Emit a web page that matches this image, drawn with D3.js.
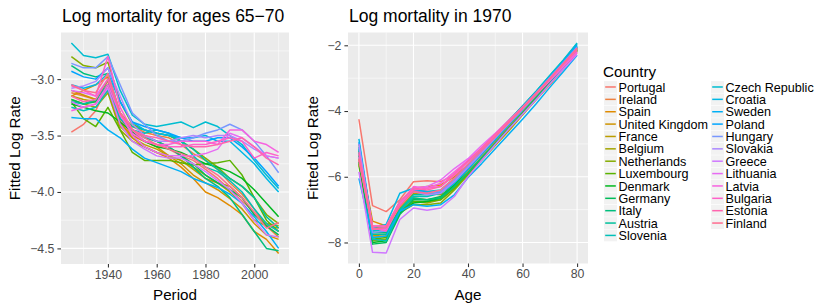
<!DOCTYPE html>
<html>
<head>
<meta charset="utf-8">
<script src="https://cdn.jsdelivr.net/npm/d3@7"></script>
<style>
  body { margin: 0; background: #fff; }
  svg { display: block; font-family: "Liberation Sans", Arial, sans-serif; }
</style>
</head>
<body>
<svg id="chart" width="822" height="308"></svg>
<script>
// ---- Data
const countries = ['Portugal', 'Ireland', 'Spain', 'United Kingdom', 'France', 'Belgium', 'Netherlands',
  'Luxembourg', 'Denmark', 'Germany', 'Italy', 'Austria', 'Slovenia', 'Czech Republic', 'Croatia',
  'Sweden', 'Poland', 'Hungary', 'Slovakia', 'Greece', 'Lithuania', 'Latvia', 'Bulgaria', 'Estonia', 'Finland'];

const periods = [1925, 1930, 1935, 1940, 1945, 1950, 1955, 1960, 1965, 1970, 1975, 1980, 1985, 1990, 1995, 2000, 2005, 2010];
const ages = [0, 5, 10, 15, 20, 25, 30, 35, 40, 45, 50, 55, 60, 65, 70, 75, 80];

// log mortality, ages 65-70, by period (one row per country)
const periodRates = [
  [-3.47, -3.40, -3.28, -3.05, -3.35, -3.50, -3.55, -3.58, -3.62, -3.68, -3.72, -3.80, -3.88, -3.98, -4.08, -4.18, -4.28, -4.35],
  [-3.12, -3.15, -3.18, -3.02, -3.30, -3.42, -3.47, -3.50, -3.52, -3.58, -3.66, -3.72, -3.80, -3.92, -4.02, -4.15, -4.30, -4.40],
  [-3.15, -3.10, -3.05, -2.98, -3.38, -3.52, -3.60, -3.65, -3.70, -3.78, -3.88, -4.00, -4.05, -4.12, -4.20, -4.35, -4.42, -4.545],
  [-3.10, -3.14, -3.18, -3.05, -3.40, -3.50, -3.55, -3.60, -3.68, -3.75, -3.85, -3.92, -3.98, -4.06, -4.15, -4.28, -4.38, -4.42],
  [-3.15, -3.18, -3.20, -3.10, -3.42, -3.52, -3.58, -3.62, -3.68, -3.72, -3.80, -3.88, -3.92, -4.00, -4.10, -4.25, -4.30, -4.32],
  [-3.18, -3.22, -3.25, -3.12, -3.45, -3.55, -3.60, -3.65, -3.68, -3.72, -3.78, -3.85, -3.92, -3.95, -4.05, -4.20, -4.28, -4.30],
  [-2.80, -2.88, -2.90, -2.85, -3.20, -3.40, -3.45, -3.48, -3.50, -3.55, -3.62, -3.70, -3.78, -3.88, -3.95, -4.05, -4.20, -4.28],
  [-3.20, -3.35, -3.42, -3.25, -3.45, -3.65, -3.72, -3.72, -3.72, -3.74, -3.76, -3.75, -3.74, -3.72, -3.85, -4.05, -4.25, -4.35],
  [-3.22, -3.25, -3.28, -3.30, -3.38, -3.47, -3.55, -3.60, -3.62, -3.65, -3.70, -3.75, -3.78, -3.82, -3.88, -3.98, -4.10, -4.22],
  [-3.18, -3.22, -3.20, -3.00, -3.35, -3.45, -3.50, -3.55, -3.60, -3.68, -3.75, -3.85, -3.92, -3.98, -4.05, -4.20, -4.30, -4.38],
  [-2.88, -2.95, -2.98, -2.95, -3.30, -3.45, -3.52, -3.55, -3.60, -3.68, -3.78, -3.88, -3.95, -4.05, -4.20, -4.35, -4.50, -4.52],
  [-3.20, -3.22, -3.18, -3.05, -3.32, -3.42, -3.45, -3.48, -3.50, -3.55, -3.62, -3.72, -3.80, -3.88, -3.95, -4.05, -4.22, -4.32],
  [-3.25, -3.28, -3.25, -3.10, -3.35, -3.45, -3.48, -3.45, -3.48, -3.55, -3.68, -3.78, -3.82, -3.90, -4.00, -4.15, -4.28, -4.35],
  [-2.68, -2.79, -2.81, -2.78, -3.10, -3.32, -3.40, -3.42, -3.40, -3.38, -3.43, -3.38, -3.42, -3.50, -3.58, -3.72, -3.85, -3.97],
  [-3.05, -3.08, -3.05, -2.95, -3.20, -3.38, -3.45, -3.48, -3.50, -3.52, -3.52, -3.50, -3.55, -3.55, -3.65, -3.75, -3.88, -4.00],
  [-3.34, -3.35, -3.35, -3.45, -3.52, -3.62, -3.70, -3.74, -3.78, -3.82, -3.88, -3.92, -3.96, -4.02, -4.10, -4.22, -4.35, -4.50],
  [-2.93, -2.98, -3.00, -2.90, -3.20, -3.38, -3.42, -3.45, -3.48, -3.52, -3.55, -3.55, -3.52, -3.52, -3.60, -3.70, -3.82, -3.95],
  [-2.86, -2.90, -2.90, -2.80, -3.05, -3.30, -3.40, -3.50, -3.55, -3.55, -3.52, -3.48, -3.45, -3.40, -3.45, -3.55, -3.68, -3.83],
  [-3.08, -3.06, -3.02, -2.90, -3.15, -3.40, -3.50, -3.55, -3.55, -3.52, -3.50, -3.52, -3.50, -3.50, -3.55, -3.62, -3.68, -3.70],
  [-3.20, -3.25, -3.22, -3.08, -3.40, -3.55, -3.62, -3.68, -3.70, -3.70, -3.75, -3.82, -3.90, -3.98, -4.10, -4.25, -4.38, -4.40],
  [-3.10, -3.12, -3.15, -3.00, -3.30, -3.50, -3.60, -3.65, -3.68, -3.68, -3.68, -3.66, -3.62, -3.48, -3.52, -3.60, -3.68, -3.70],
  [-3.28, -3.25, -3.22, -3.05, -3.32, -3.48, -3.55, -3.58, -3.58, -3.55, -3.55, -3.55, -3.58, -3.45, -3.45, -3.55, -3.58, -3.65],
  [-3.06, -3.10, -3.15, -2.80, -3.25, -3.45, -3.55, -3.58, -3.60, -3.60, -3.58, -3.58, -3.55, -3.52, -3.55, -3.70, -3.65, -3.68],
  [-3.15, -3.20, -3.18, -3.00, -3.30, -3.45, -3.50, -3.52, -3.55, -3.58, -3.60, -3.60, -3.58, -3.55, -3.52, -3.60, -3.70, -3.76],
  [-3.05, -3.10, -3.12, -2.95, -3.30, -3.45, -3.52, -3.58, -3.62, -3.66, -3.70, -3.78, -3.85, -3.95, -4.05, -4.18, -4.32, -4.27]
];

// log mortality in 1970, by age (one row per country)
const ageRates = [
  [-4.25, -6.88, -7.06, -6.70, -6.15, -6.12, -6.15, -5.95, -5.65, -5.25, -4.85, -4.42, -4.00, -3.55, -3.10, -2.62, -2.15],
  [-5.00, -7.55, -7.55, -6.85, -6.40, -6.45, -6.45, -6.15, -5.75, -5.32, -4.90, -4.45, -4.02, -3.57, -3.10, -2.62, -2.15],
  [-5.20, -7.35, -7.50, -6.90, -6.35, -6.30, -6.25, -6.00, -5.70, -5.30, -4.90, -4.48, -4.08, -3.65, -3.20, -2.72, -2.22],
  [-5.50, -7.80, -7.75, -7.05, -6.65, -6.70, -6.65, -6.30, -5.85, -5.40, -4.95, -4.50, -4.05, -3.60, -3.12, -2.62, -2.12],
  [-5.60, -7.70, -7.70, -6.95, -6.50, -6.50, -6.55, -6.30, -5.92, -5.50, -5.05, -4.60, -4.12, -3.65, -3.17, -2.67, -2.17],
  [-5.45, -7.85, -7.80, -7.05, -6.75, -6.80, -6.70, -6.35, -5.90, -5.45, -5.00, -4.55, -4.10, -3.63, -3.15, -2.65, -2.15],
  [-5.65, -7.95, -7.90, -7.10, -6.85, -6.85, -6.80, -6.40, -5.95, -5.48, -5.00, -4.55, -4.08, -3.60, -3.12, -2.62, -2.10],
  [-5.30, -7.90, -7.85, -7.05, -6.75, -6.75, -6.70, -6.35, -5.90, -5.45, -5.00, -4.52, -4.05, -3.58, -3.10, -2.60, -2.10],
  [-5.55, -8.00, -7.95, -7.10, -6.80, -6.75, -6.65, -6.25, -5.78, -5.30, -4.85, -4.40, -3.95, -3.50, -3.05, -2.55, -2.05],
  [-5.35, -8.05, -8.00, -7.15, -6.70, -6.70, -6.60, -6.20, -5.75, -5.30, -4.85, -4.40, -3.95, -3.50, -3.02, -2.55, -2.08],
  [-5.20, -7.70, -7.70, -7.00, -6.65, -6.70, -6.65, -6.30, -5.88, -5.42, -4.98, -4.52, -4.08, -3.62, -3.15, -2.65, -2.15],
  [-5.10, -7.75, -7.75, -7.00, -6.55, -6.55, -6.50, -6.15, -5.72, -5.28, -4.83, -4.38, -3.93, -3.48, -3.00, -2.52, -2.02],
  [-5.25, -7.90, -7.95, -7.05, -6.60, -6.60, -6.50, -6.12, -5.68, -5.22, -4.75, -4.30, -3.85, -3.40, -2.92, -2.45, -1.95],
  [-5.15, -7.65, -7.60, -6.75, -6.40, -6.45, -6.40, -6.05, -5.62, -5.18, -4.72, -4.28, -3.85, -3.40, -2.92, -2.45, -1.93],
  [-4.85, -7.55, -7.45, -6.50, -6.35, -6.45, -6.50, -6.20, -5.78, -5.32, -4.88, -4.42, -3.98, -3.52, -3.05, -2.55, -2.05],
  [-6.05, -7.85, -7.80, -7.05, -6.85, -6.90, -6.85, -6.55, -6.02, -5.60, -5.15, -4.70, -4.25, -3.78, -3.28, -2.80, -2.30],
  [-4.95, -7.60, -7.55, -6.80, -6.40, -6.50, -6.45, -6.10, -5.70, -5.25, -4.80, -4.35, -3.90, -3.45, -2.98, -2.50, -2.00],
  [-5.10, -7.70, -7.65, -6.85, -6.45, -6.50, -6.45, -6.10, -5.68, -5.22, -4.78, -4.32, -3.88, -3.45, -2.98, -2.52, -2.05],
  [-5.00, -7.60, -7.55, -6.80, -6.45, -6.55, -6.50, -6.15, -5.72, -5.28, -4.82, -4.38, -3.95, -3.50, -3.02, -2.55, -2.10],
  [-5.85, -8.30, -8.32, -7.30, -6.95, -7.02, -6.95, -6.60, -6.00, -5.50, -5.02, -4.55, -4.10, -3.65, -3.18, -2.72, -2.28],
  [-5.40, -7.60, -7.60, -6.85, -6.35, -6.30, -6.10, -5.75, -5.45, -5.05, -4.68, -4.28, -3.90, -3.48, -3.05, -2.62, -2.20],
  [-5.30, -7.50, -7.50, -6.80, -6.30, -6.35, -6.20, -5.85, -5.50, -5.12, -4.72, -4.32, -3.92, -3.50, -3.08, -2.65, -2.22],
  [-5.50, -7.55, -7.65, -6.80, -6.40, -6.35, -6.30, -5.95, -5.55, -5.15, -4.75, -4.32, -3.90, -3.45, -3.00, -2.55, -2.10],
  [-5.25, -7.50, -7.50, -6.75, -6.35, -6.40, -6.30, -5.90, -5.52, -5.12, -4.70, -4.28, -3.88, -3.45, -3.02, -2.58, -2.15],
  [-5.45, -7.60, -7.55, -6.90, -6.45, -6.50, -6.40, -6.05, -5.62, -5.20, -4.78, -4.35, -3.92, -3.48, -3.02, -2.55, -2.08]
];

const periodTicks = [1940, 1960, 1980, 2000];
const periodRateTicks = [-3.0, -3.5, -4.0, -4.5];
const ageTicks = [0, 20, 40, 60, 80];
const ageRateTicks = [-2, -4, -6, -8];

// ---- ggplot2-style hue palette (polar LUV -> sRGB)
function hclLuv(h, c, l) {
  const hr = h * Math.PI / 180;
  const U = c * Math.cos(hr), V = c * Math.sin(hr);
  const Xn = 95.047, Yn = 100, Zn = 108.883;
  const Y = Yn * (l > 7.999592 ? Math.pow((l + 16) / 116, 3) : l / 903.3);
  const t = Xn + Yn + Zn, x = Xn / t, y = Yn / t;
  const un = 2 * x / (6 * y - x + 1.5), vn = 4.5 * y / (6 * y - x + 1.5);
  const u = U / (13 * l) + un, v = V / (13 * l) + vn;
  const X = 9 * Y * u / (4 * v);
  const Z = -X / 3 - 5 * Y + 3 * Y / v;
  const gam = (q) => q <= 0.0031308 ? 12.92 * q : 1.055 * Math.pow(q, 1 / 2.4) - 0.055;
  const ch = (q) => Math.round(255 * Math.max(0, Math.min(1, gam(q / Yn))));
  return d3.rgb(
    ch(3.240479 * X - 1.537150 * Y - 0.498535 * Z),
    ch(-0.969256 * X + 1.875992 * Y + 0.041556 * Z),
    ch(0.055648 * X - 0.204043 * Y + 1.057311 * Z)
  ).formatHex();
}
const n = countries.length;
const palette = countries.map((_c, i) => hclLuv(15 + i * 360 / n, 100, 65));
const color = d3.scaleOrdinal().domain(countries).range(palette);

const svg = d3.select('#chart');
const FONT_TICK = 12.3, FONT_AXIS = 15.2, FONT_TITLE = 17.5;

function expand(ext) {
  const pad = (ext[1] - ext[0]) * 0.05;
  return [ext[0] - pad, ext[1] + pad];
}

// ---- One ggplot-like panel
function panel(opts) {
  const { left, right, top, bottom, xs, rows, xTicks, yTicks, yFmt, title, xTitle, yTitleX } = opts;
  const allY = rows.flat();
  const x = d3.scaleLinear().domain(expand(d3.extent(xs))).range([left, right]);
  const y = d3.scaleLinear().domain(expand(d3.extent(allY))).range([bottom, top]);

  const g = svg.append('g');
  g.append('rect')
    .attr('x', left).attr('y', top)
    .attr('width', right - left).attr('height', bottom - top)
    .attr('fill', '#EBEBEB');

  // minor grid
  const xMinor = xTicks.slice(0, -1).map((t, i) => (t + xTicks[i + 1]) / 2);
  const step = xTicks[1] - xTicks[0];
  xMinor.unshift(xTicks[0] - step / 2);
  xMinor.push(xTicks[xTicks.length - 1] + step / 2);
  const ystep = yTicks[1] - yTicks[0];
  const yMinor = [yTicks[0] - ystep / 2].concat(yTicks.map((t) => t + ystep / 2));
  const [x0, x1] = x.domain(), [y0, y1] = y.domain();
  g.selectAll('.vminor').data(xMinor.filter((v) => v > x0 && v < x1)).join('line')
    .attr('x1', (d) => x(d)).attr('x2', (d) => x(d)).attr('y1', top).attr('y2', bottom)
    .attr('stroke', '#fff').attr('stroke-width', 0.55);
  g.selectAll('.hminor').data(yMinor.filter((v) => v > y0 && v < y1)).join('line')
    .attr('y1', (d) => y(d)).attr('y2', (d) => y(d)).attr('x1', left).attr('x2', right)
    .attr('stroke', '#fff').attr('stroke-width', 0.55);
  // major grid
  g.selectAll('.vmajor').data(xTicks).join('line')
    .attr('x1', (d) => x(d)).attr('x2', (d) => x(d)).attr('y1', top).attr('y2', bottom)
    .attr('stroke', '#fff').attr('stroke-width', 1.1);
  g.selectAll('.hmajor').data(yTicks).join('line')
    .attr('y1', (d) => y(d)).attr('y2', (d) => y(d)).attr('x1', left).attr('x2', right)
    .attr('stroke', '#fff').attr('stroke-width', 1.1);

  // series
  const line = d3.line().x((d) => x(d[0])).y((d) => y(d[1]));
  g.selectAll('.series').data(rows).join('path')
    .attr('fill', 'none')
    .attr('stroke', (_d, i) => color(countries[i]))
    .attr('stroke-width', 1.5)
    .attr('stroke-linejoin', 'round')
    .attr('d', (row) => line(row.map((v, j) => [xs[j], v])));

  // axes
  const ax = g.append('g').attr('transform', `translate(0,${bottom})`)
    .call(d3.axisBottom(x).tickValues(xTicks).tickSize(3.6).tickPadding(2.5).tickFormat(d3.format('d')));
  const ay = g.append('g').attr('transform', `translate(${left},0)`)
    .call(d3.axisLeft(y).tickValues(yTicks).tickSize(3.6).tickPadding(3).tickFormat(d3.format(yFmt)));
  [ax, ay].forEach((a) => {
    a.select('.domain').remove();
    a.selectAll('.tick line').attr('stroke', '#333').attr('stroke-width', 1.07);
    a.selectAll('.tick text').attr('fill', '#4D4D4D').style('font-size', FONT_TICK + 'px')
      .style('font-family', '"Liberation Sans", Arial, sans-serif');
  });

  // titles
  g.append('text').attr('x', left + 1).attr('y', 22)
    .style('font-size', FONT_TITLE + 'px').attr('fill', '#000').text(title);
  g.append('text').attr('x', (left + right) / 2).attr('y', 300).attr('text-anchor', 'middle')
    .style('font-size', FONT_AXIS + 'px').attr('fill', '#000').text(xTitle);
  g.append('text')
    .attr('transform', `translate(${yTitleX},${(top + bottom) / 2}) rotate(-90)`)
    .attr('text-anchor', 'middle')
    .style('font-size', FONT_AXIS + 'px').attr('fill', '#000').text('Fitted Log Rate');
}

panel({
  left: 61, right: 289, top: 32.5, bottom: 264,
  xs: periods, rows: periodRates,
  xTicks: periodTicks, yTicks: periodRateTicks, yFmt: '.1f',
  title: 'Log mortality for ages 65\u221270', xTitle: 'Period', yTitleX: 20
});

panel({
  left: 348, right: 588, top: 32.5, bottom: 263.5,
  xs: ages, rows: ageRates,
  xTicks: ageTicks, yTicks: ageRateTicks, yFmt: 'd',
  title: 'Log mortality in 1970', xTitle: 'Age', yTitleX: 318
});

// ---- Legend
const legend = svg.append('g');
legend.append('text').attr('x', 603).attr('y', 77)
  .style('font-size', '15.2px').attr('fill', '#000').text('Country');
const perCol = Math.ceil(n / 2);
const rowH = 12.37;
const items = legend.selectAll('.item').data(countries).join('g')
  .attr('transform', (_d, i) => {
    const col = Math.floor(i / perCol), r = i % perCol;
    return `translate(${col === 0 ? 604 : 711},${81.1 + r * rowH})`;
  });
items.append('rect').attr('x', 0).attr('y', 0).attr('width', 13).attr('height', rowH - 0.6)
  .attr('fill', '#F2F2F2');
items.append('line').attr('x1', 1.2).attr('x2', 11.8).attr('y1', rowH / 2 - 0.3).attr('y2', rowH / 2 - 0.3)
  .attr('stroke', (d) => color(d)).attr('stroke-width', 1.5);
items.append('text').attr('x', 14.5).attr('y', rowH / 2 + 4.3)
  .style('font-size', '12.6px').attr('fill', '#000').text((d) => d);
</script>
</body>
</html>
